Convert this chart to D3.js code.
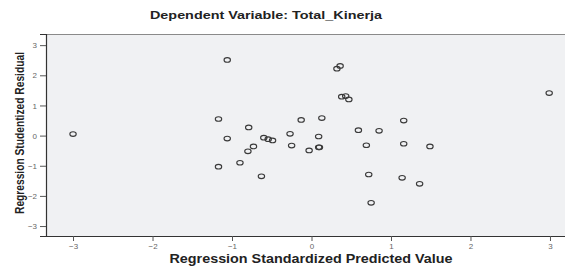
<!DOCTYPE html>
<html>

<head>
    <meta charset="utf-8">
    <script src="https://d3js.org/d3.v7.min.js"></script>
    <style>
        body { margin: 0; background: #fff; }
        text { font-family: "Liberation Sans", Arial, sans-serif; }
    </style>
</head>
<body>
    <script>
        // values
        let predicted = [-3.0, -1.06, -1.17, -1.06, -1.17, -0.79, -0.90, -0.73, -0.80, -0.63,
            -0.60, -0.545, -0.49, -0.13, -0.27, -0.25, -0.03, 0.32, 0.36, 0.38,
            0.43, 0.47, 0.13, 0.09, 0.09, 0.10, 0.59, 0.85, 1.16, 0.69,
            1.16, 1.49, 0.72, 1.14, 1.36, 0.75, 2.99];
        let residual = [0.05, 2.51, 0.55, -0.10, -1.03, 0.27, -0.90, -0.36, -0.52, -1.35,
            -0.07, -0.12, -0.16, 0.52, 0.06, -0.33, -0.49, 2.22, 2.31, 1.29,
            1.31, 1.20, 0.58, -0.03, -0.39, -0.39, 0.18, 0.16, 0.50, -0.32,
            -0.27, -0.36, -1.29, -1.40, -1.60, -2.23, 1.41];
        let xTicks = [-3, -2, -1, 0, 1, 2, 3];
        let yTicks = [-3, -2, -1, 0, 1, 2, 3];

        let width = 565,
            height = 266;

        let svg = d3.select("body").append("svg")
            .attr("width", width)
            .attr("height", height);

        let plotLeft = 46, plotTop = 34, plotBottom = 236;

        let x = d3.scaleLinear().domain([-3.34, 3.34]).range([plotLeft, 577]);
        let y = d3.scaleLinear().domain([-3.33, 3.37]).range([plotBottom, plotTop]);

        // plot background
        svg.append("rect")
            .attr("x", plotLeft)
            .attr("y", plotTop)
            .attr("width", width - plotLeft)
            .attr("height", plotBottom - plotTop)
            .attr("fill", "#f0f1f3");

        svg.append("line")
            .attr("x1", plotLeft).attr("x2", width)
            .attr("y1", plotTop + 0.5).attr("y2", plotTop + 0.5)
            .attr("stroke", "#8a8a8a")
            .attr("stroke-width", 1.2);

        let xAxis = svg.append("g")
            .attr("transform", "translate(0," + plotBottom + ")")
            .call(d3.axisBottom(x).tickValues(xTicks).tickSize(5).tickPadding(2).tickFormat(d3.format("d")));
        let yAxis = svg.append("g")
            .attr("transform", "translate(" + plotLeft + ",0)")
            .call(d3.axisLeft(y).tickValues(yTicks).tickSize(6).tickPadding(3).tickFormat(d3.format("d")));

        [xAxis, yAxis].forEach(function(g) {
            g.select(".domain").attr("stroke", "#333").attr("stroke-width", 1.2);
            g.selectAll(".tick line").attr("stroke", "#555");
            g.selectAll(".tick text")
                .attr("fill", "#666")
                .style("font-size", "8px")
                .style("font-family", "Liberation Sans, Arial, sans-serif");
        });
        xAxis.select(".domain").attr("d", "M" + plotLeft + ",0.5H" + width);

        // points
        svg.append("g")
            .selectAll("ellipse")
            .data(predicted)
            .join("ellipse")
                .attr("cx", function(d) { return x(d); })
                .attr("cy", function(d, i) { return y(residual[i]); })
                .attr("rx", 3.2)
                .attr("ry", 2.3)
                .attr("fill", "none")
                .attr("stroke", "#3a3a3a")
                .attr("stroke-width", 1.1);

        // titles
        svg.append("text")
            .attr("x", 266)
            .attr("y", 19)
            .attr("text-anchor", "middle")
            .attr("textLength", 232)
            .attr("lengthAdjust", "spacingAndGlyphs")
            .style("font-size", "11.5px")
            .style("font-weight", "bold")
            .attr("fill", "#222")
            .text("Dependent Variable: Total_Kinerja");

        svg.append("text")
            .attr("x", 311)
            .attr("y", 263)
            .attr("text-anchor", "middle")
            .attr("textLength", 283)
            .attr("lengthAdjust", "spacingAndGlyphs")
            .style("font-size", "12px")
            .style("font-weight", "bold")
            .attr("fill", "#222")
            .text("Regression Standardized Predicted Value");

        svg.append("text")
            .attr("transform", "translate(24,133) rotate(-90)")
            .attr("text-anchor", "middle")
            .attr("textLength", 162)
            .attr("lengthAdjust", "spacingAndGlyphs")
            .style("font-size", "12.5px")
            .style("font-weight", "bold")
            .attr("fill", "#222")
            .text("Regression Studentized Residual");
    </script>
</body>
</html>
